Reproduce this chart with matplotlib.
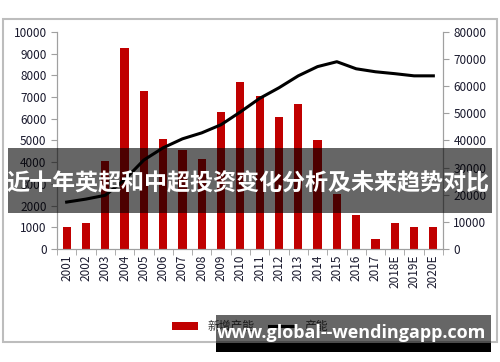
import matplotlib.pyplot as plt
from matplotlib.patches import Rectangle
import numpy as np

plt.rcParams['font.family'] = ['Noto Sans CJK SC', 'DejaVu Sans']

# data
years = ['2001', '2002', '2003', '2004', '2005', '2006', '2007', '2008', '2009', '2010',
         '2011', '2012', '2013', '2014', '2015', '2016', '2017', '2018E', '2019E', '2020E']
new_capacity = [1000, 1200, 4050, 9250, 7300, 5050, 4550, 4150, 6300, 7700,
                7050, 6100, 6700, 5000, 2550, 1550, 450, 1200, 1000, 1000]
capacity = [17300, 18400, 19800, 25500, 32800, 37300, 40600, 42800, 45800, 50500,
            55500, 59400, 63800, 67200, 69000, 66400, 65300, 64600, 63800, 63800]

title_text = '近十年英超和中超投资变化分析及未来趋势对比'
url_text = 'www.global--wendingapp.com'

fig = plt.figure(figsize=(5, 3.62), dpi=100)
ax = fig.add_axes([0.114, 0.312, 0.772, 0.6])
ax2 = ax.twinx()

x = np.arange(len(years))
bars = ax.bar(x, new_capacity, width=0.43, color='#C00000', label='新增产能', zorder=2)
line, = ax2.plot(x, capacity, color='black', lw=2.2, label='产能', zorder=3)

ax.set_xlim(-0.5, len(years) - 0.5)
ax.set_ylim(0, 10000)
ax2.set_ylim(0, 80000)
ax.set_yticks(range(0, 10001, 1000))
ax2.set_yticks(range(0, 80001, 10000))
ax.set_xticks(x)
ax.set_xticklabels(years, rotation=90, fontsize=8.5, color='#1a1a2e')
ax.set_xticks(np.arange(-0.5, len(years), 1), minor=True)
ax.tick_params(axis='x', which='major', length=0, pad=4)
ax.tick_params(axis='x', which='minor', length=4, color='#a0a0a0')
ax.tick_params(axis='y', labelsize=8.5, labelcolor='#1a1a2e', length=4, color='#a0a0a0')
ax2.tick_params(axis='y', labelsize=8.5, labelcolor='#1a1a2e', length=4, color='#a0a0a0')

for a in (ax, ax2):
    a.spines['top'].set_visible(False)
    for s in ('left', 'right', 'bottom'):
        a.spines[s].set_color('#a0a0a0')
ax2.set_zorder(ax.get_zorder() + 1)
ax2.patch.set_visible(False)

# legend
fig.legend(handles=[bars, line], loc='center', bbox_to_anchor=(0.5, 0.097), ncol=2,
           frameon=False, fontsize=8.5, handlelength=2.2, columnspacing=1.2,
           labelcolor='#404040')

# outer frame
fig.patches.append(Rectangle((0.006, 0.055), 0.988, 0.893, transform=fig.transFigure,
                             fill=False, edgecolor='#bdbdbd', lw=1.5, zorder=0))

# title banner overlay
fig.patches.append(Rectangle((0.016, 1 - 213 / 362), 0.968, 65 / 362, transform=fig.transFigure,
                             facecolor='black', alpha=0.6, edgecolor='none', zorder=10))
fig.text(0.496, 1 - 184 / 362, title_text, color='white', fontsize=16.6, fontweight='bold',
         ha='center', va='center', zorder=11)

# url banner overlay
fig.patches.append(Rectangle((216 / 500, 1 - 343 / 362), 275 / 500, 28 / 362, transform=fig.transFigure,
                             facecolor='black', alpha=0.6, edgecolor='none', zorder=10))
fig.patches.append(Rectangle((216 / 500, 1 - 352 / 362), 275 / 500, 9 / 362, transform=fig.transFigure,
                             facecolor='black', edgecolor='none', zorder=10))
fig.text(352 / 500, 1 - 333 / 362, url_text, color='white', fontsize=13, fontweight='bold',
         ha='center', va='center', family=['Open Sans', 'DejaVu Sans'], zorder=11)

fig.savefig('out.png', dpi=100)
